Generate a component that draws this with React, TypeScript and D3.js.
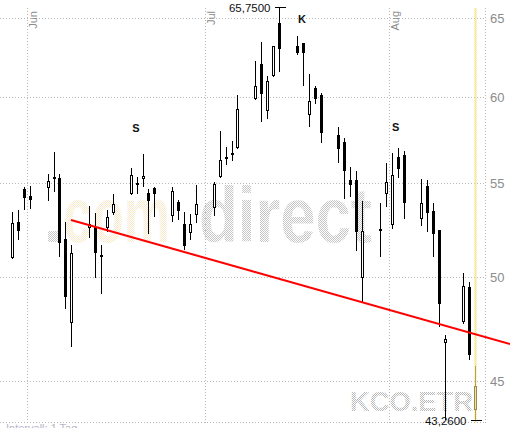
import React from "react";
import * as d3 from "d3";

// ---- data (KCO.ETR daily candles, May 29 – Aug 15 2007) ----
const dates = [
  "2007-05-29", "2007-05-30", "2007-05-31", "2007-06-01",
  "2007-06-04", "2007-06-05", "2007-06-06", "2007-06-07", "2007-06-08",
  "2007-06-11", "2007-06-12", "2007-06-13", "2007-06-14", "2007-06-15",
  "2007-06-18", "2007-06-19", "2007-06-20", "2007-06-21", "2007-06-22",
  "2007-06-25", "2007-06-26", "2007-06-27", "2007-06-28", "2007-06-29",
  "2007-07-02", "2007-07-03", "2007-07-04", "2007-07-05", "2007-07-06",
  "2007-07-09", "2007-07-10", "2007-07-11", "2007-07-12", "2007-07-13",
  "2007-07-16", "2007-07-17", "2007-07-18", "2007-07-19", "2007-07-20",
  "2007-07-23", "2007-07-24", "2007-07-25", "2007-07-26", "2007-07-27",
  "2007-07-30", "2007-07-31", "2007-08-01", "2007-08-02", "2007-08-03",
  "2007-08-06", "2007-08-07", "2007-08-08", "2007-08-09", "2007-08-10",
  "2007-08-13", "2007-08-14", "2007-08-15",
];
const openValues = [
  50.99, 52.89, 54.70, 54.31,
  54.74, 55.37, 55.31, 52.00, 47.74,
  52.57, 52.65, 51.18, 52.57, 53.39,
  54.42, 55.03, 55.27, 54.46, 54.74,
  53.24, 53.98, 52.80, 52.33, 53.26,
  53.62, 55.39, 56.50, 56.71, 57.04,
  59.95, 62.09, 59.22, 61.36, 64.72,
  63.23, 63.43, 58.98, 60.60, 60.17,
  57.78, 57.37, 55.18, 55.20, 49.97,
  52.53, 54.41, 52.74, 56.50, 56.62,
  53.05, 54.87, 53.49, 52.48, 46.79,
  47.79, 49.52, 43.73,
];
const highValues = [
  53.44, 53.55, 54.81, 54.88,
  55.52, 56.81, 55.54, 52.92, 51.68,
  53.77, 53.37, 51.68, 53.55, 54.41,
  55.86, 55.37, 56.69, 54.72, 54.79,
  54.79, 54.09, 53.42, 53.33, 54.92,
  55.11, 58.02, 57.10, 57.41, 60.17,
  62.28, 63.49, 61.34, 63.25, 65.75,
  63.88, 63.45, 61.46, 60.72, 60.27,
  58.27, 57.62, 55.95, 55.70, 54.04,
  53.95, 56.18, 56.71, 57.04, 56.86,
  55.24, 55.20, 53.95, 52.50, 47.18,
  50.22, 49.77, 45.72,
];
const lowValues = [
  50.95, 51.96, 53.57, 53.62,
  54.06, 54.55, 51.08, 48.45, 46.60,
  52.07, 49.97, 49.20, 52.35, 53.28,
  54.38, 54.42, 54.83, 52.26, 53.19,
  52.90, 53.01, 51.42, 51.95, 52.86,
  53.22, 55.31, 56.05, 56.27, 56.95,
  59.85, 58.56, 58.74, 61.30, 61.61,
  62.68, 60.72, 58.27, 59.64, 57.33,
  56.18, 54.13, 54.28, 51.39, 48.77,
  51.08, 53.73, 52.53, 55.31, 53.08,
  52.69, 52.35, 51.08, 47.55, 43.30,
  47.70, 46.00, 43.26,
];
const closeValues = [
  52.83, 52.39, 54.22, 54.11,
  55.14, 55.27, 51.80, 49.05, 51.25,
  52.78, 51.28, 51.08, 53.17, 53.86,
  55.46, 54.94, 55.42, 54.00, 54.42,
  54.59, 53.51, 51.65, 52.80, 53.87,
  54.96, 56.33, 56.41, 56.60, 59.31,
  60.72, 60.25, 61.03, 63.23, 63.06,
  62.81, 62.81, 59.81, 59.95, 57.92,
  56.98, 55.72, 54.88, 52.39, 52.43,
  52.41, 55.09, 55.48, 55.82, 53.91,
  53.91, 53.37, 52.28, 48.67, 46.97,
  49.58, 46.23, 44.80,
];

const priceTicks = [45, 50, 55, 60, 65];
const monthTicks = ["2007-06-01", "2007-07-01", "2007-08-01"];
const monthLabels = ["Jun", "Jul", "Aug"];

const trendTimes = ["2007-06-08T08:45", "2007-08-21T08:10"];
const trendValues = [53.01, 46.75];

const noteLabels = ["S", "K", "S"];
const noteTimes = ["2007-06-19T07:00", "2007-07-17T06:45", "2007-08-02T01:40"];
const noteValues = [58.19, 65.0, 58.25];

// ---- layout ----
const W = 510;
const H = 428;
const PLOT_RIGHT = 485.7;
const PLOT_TOP = 8;
const PLOT_BOTTOM = 422.7;
const FONT = "'Liberation Sans', Arial, sans-serif";

const parseDay = d3.timeParse("%Y-%m-%d");
const parseTime = d3.timeParse("%Y-%m-%dT%H:%M");
const crisp = (v: number) => Math.round(v - 0.5) + 0.5;
const fmtDE = (v: number) => d3.format(".4f")(v).replace(".", ",");

export default function App() {
  const x = d3
    .scaleTime()
    .domain([parseDay("2007-06-01")!, parseDay("2007-08-01")!])
    .range([27.3, 389.3]);
  const y = d3.scaleLog().domain([45, 65]).range([381.7, 18.8]);

  const candles = dates.map((d, i) => ({
    t: d3.timeHour.offset(parseDay(d)!, 12),
    o: openValues[i],
    h: highValues[i],
    l: lowValues[i],
    c: closeValues[i],
  }));
  const last = candles.length - 1;

  const maxHigh = d3.max(highValues)!;
  const minLow = d3.min(lowValues)!;
  const maxIdx = highValues.indexOf(maxHigh);
  const minIdx = lowValues.indexOf(minLow);

  const trendLine = d3
    .line<[Date, number]>()
    .x((d) => x(d[0]))
    .y((d) => y(d[1]));
  const trendData: [Date, number][] = trendTimes.map((t, i) => [parseTime(t)!, trendValues[i]]);

  const lastX = crisp(x(candles[last].t));

  return (
    <svg
      width={W}
      height={H}
      style={{ position: "absolute", left: 0, top: 0, background: "#fff" }}
      fontFamily={FONT}
    >
      <defs>
        <pattern id="dotGray" width="2" height="2" patternUnits="userSpaceOnUse">
          <rect x="0" y="0" width="1" height="1" fill="#c6c6c6" />
          <rect x="1" y="1" width="1" height="1" fill="#c6c6c6" />
        </pattern>
        <pattern id="dotYellow" width="2" height="2" patternUnits="userSpaceOnUse">
          <rect x="0" y="0" width="1" height="1" fill="#f8edbb" />
          <rect x="1" y="1" width="1" height="1" fill="#f8e6dc" />
        </pattern>
        <pattern id="dotDark" width="2" height="2" patternUnits="userSpaceOnUse">
          <rect x="0" y="0" width="1" height="1" fill="#b8b8b8" />
          <rect x="1" y="1" width="1" height="1" fill="#b8b8b8" />
        </pattern>
        <pattern id="dotHighlight" width="2" height="2" patternUnits="userSpaceOnUse">
          <rect x="0" y="0" width="2" height="2" fill="#fbf3bf" />
          <rect x="0" y="0" width="1" height="1" fill="#f1df7c" />
          <rect x="1" y="1" width="1" height="1" fill="#f1df7c" />
        </pattern>
      </defs>
      <rect x={0} y={0} width={W} height={H} fill="#fff" />

      {/* watermarks */}
      <rect x={48} y={231} width={10} height={11} fill="url(#dotGray)" />
      <text
        x={63}
        y={242}
        fontSize={78}
        fontWeight="bold"
        textLength={107}
        lengthAdjust="spacingAndGlyphs"
        fill="url(#dotYellow)"
      >
        com
      </text>
      <text
        x={199}
        y={242}
        fontSize={78}
        fontWeight="bold"
        textLength={173}
        lengthAdjust="spacingAndGlyphs"
        fill="url(#dotGray)"
      >
        direct
      </text>
      <text
        x={350}
        y={411}
        fontSize={28}
        fontWeight="bold"
        textLength={123}
        lengthAdjust="spacingAndGlyphs"
        fill="url(#dotDark)"
      >
        KCO.ETR
      </text>

      {/* horizontal gridlines */}
      {priceTicks.map((v) => (
        <line
          key={"h" + v}
          x1={0}
          x2={PLOT_RIGHT}
          y1={crisp(y(v))}
          y2={crisp(y(v))}
          stroke="#b8b8b8"
          strokeDasharray="1,2"
          shapeRendering="crispEdges"
        />
      ))}
      <line
        x1={0}
        x2={PLOT_RIGHT}
        y1={crisp(PLOT_BOTTOM)}
        y2={crisp(PLOT_BOTTOM)}
        stroke="#b8b8b8"
        strokeDasharray="1,2"
        shapeRendering="crispEdges"
      />

      {/* vertical gridlines */}
      {monthTicks.map((m) => (
        <line
          key={"v" + m}
          x1={crisp(x(parseDay(m)!))}
          x2={crisp(x(parseDay(m)!))}
          y1={PLOT_TOP}
          y2={PLOT_BOTTOM}
          stroke="#b8b8b8"
          strokeDasharray="1,2"
          shapeRendering="crispEdges"
        />
      ))}
      <line
        x1={crisp(PLOT_RIGHT)}
        x2={crisp(PLOT_RIGHT)}
        y1={PLOT_TOP}
        y2={PLOT_BOTTOM}
        stroke="#b8b8b8"
        strokeDasharray="1,2"
        shapeRendering="crispEdges"
      />

      {/* month labels */}
      {monthTicks.map((m, i) => {
        const mx = x(parseDay(m)!) + 10;
        return (
          <text
            key={"ml" + m}
            transform={`translate(${mx},11) rotate(-90)`}
            textAnchor="end"
            fontSize={11}
            fill="#8c8c8c"
          >
            {monthLabels[i]}
          </text>
        );
      })}

      {/* price labels */}
      {priceTicks.map((v) => (
        <text key={"pl" + v} x={490} y={y(v)} dy="0.36em" fontSize={13} fill="#8c8c8c">
          {v}
        </text>
      ))}

      {/* highlight of latest day */}
      <rect
        x={lastX - 1}
        y={PLOT_TOP}
        width={2}
        height={PLOT_BOTTOM - PLOT_TOP}
        fill="url(#dotHighlight)"
      />

      {/* candles */}
      {candles.map((d, i) => {
        const cx = crisp(x(d.t));
        const up = d.c >= d.o;
        const isLast = i === last;
        const top = y(Math.max(d.o, d.c));
        const bot = y(Math.min(d.o, d.c));
        const hgt = Math.max(1, bot - top);
        const wickColor = isLast ? "#b9a04e" : "#000";
        return (
          <g key={"c" + i}>
            <line
              x1={cx}
              x2={cx}
              y1={Math.round(y(d.h))}
              y2={Math.round(y(d.l))}
              stroke={wickColor}
              strokeWidth={1}
              shapeRendering="crispEdges"
            />
            {up ? (
              <rect
                x={cx - 1}
                y={Math.round(top) + 0.5}
                width={2}
                height={Math.max(1, Math.round(hgt) - 1)}
                fill={isLast ? "#f3e6a2" : "#fff"}
                stroke={isLast ? "#9c8845" : "#000"}
                strokeWidth={1}
                shapeRendering="crispEdges"
              />
            ) : (
              <rect
                x={cx - 1.5}
                y={Math.round(top)}
                width={3}
                height={Math.max(1, Math.round(hgt))}
                fill="#000"
                shapeRendering="crispEdges"
              />
            )}
          </g>
        );
      })}

      {/* trend line */}
      <path d={trendLine(trendData)!} fill="none" stroke="#ff0000" strokeWidth={2} />

      {/* max / min markers */}
      {[
        { idx: maxIdx, v: maxHigh },
        { idx: minIdx, v: minLow },
      ].map((m, i) => {
        const mx = crisp(x(candles[m.idx].t));
        const my = crisp(y(m.v));
        return (
          <g key={"mm" + i}>
            <line x1={mx - 5} x2={mx + 6} y1={my} y2={my} stroke="#000" shapeRendering="crispEdges" />
            <text x={mx - 9} y={my} dy="0.36em" textAnchor="end" fontSize={11.5} fill="#111">
              {fmtDE(m.v)}
            </text>
          </g>
        );
      })}

      {/* S / K annotations */}
      {noteLabels.map((s, i) => (
        <text
          key={"n" + i}
          x={x(parseTime(noteTimes[i])!)}
          y={y(noteValues[i])}
          dy="0.36em"
          textAnchor="middle"
          fontSize={11}
          fontWeight="bold"
          fill="#111"
        >
          {s}
        </text>
      ))}

      {/* footer */}
      <text x={6} y={432} fontSize={11} fill="#bab4ca">
        Intervall: 1 Tag
      </text>
    </svg>
  );
}
